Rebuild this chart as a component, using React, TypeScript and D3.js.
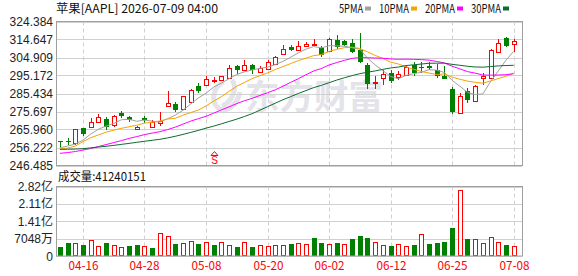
import React, { useEffect } from 'react';
import * as d3 from 'd3';

// trading days shown (MM-DD)
const dates = [
  '04-13', '04-14', '04-15', '04-16', '04-17', '04-20', '04-21', '04-22', '04-23', '04-24',
  '04-27', '04-28', '04-29', '04-30', '05-01', '05-04', '05-05', '05-06', '05-07', '05-08',
  '05-11', '05-12', '05-13', '05-14', '05-15', '05-18', '05-19', '05-20', '05-21', '05-22',
  '05-26', '05-27', '05-28', '05-29', '06-01', '06-02', '06-03', '06-04', '06-05', '06-08',
  '06-09', '06-10', '06-11', '06-12', '06-15', '06-16', '06-17', '06-18', '06-22', '06-23',
  '06-24', '06-25', '06-26', '06-29', '06-30', '07-01', '07-02', '07-06', '07-07', '07-08',
];

const opens = [
  259.69, 259.6, 258.45, 266.54, 267.08, 270.09, 271.55, 268.32, 274.95, 272.47,
  266.0, 271.93, 267.4, 269.23, 278.72, 279.91, 276.94, 280.88, 289.34, 290.15,
  292.58, 292.85, 293.92, 300.39, 298.07, 300.77, 297.16, 298.88, 301.58, 306.86,
  310.64, 309.13, 310.91, 312.0, 310.1, 308.21, 314.14, 313.6, 312.9, 308.75,
  301.04, 291.23, 294.03, 296.51, 294.35, 295.65, 301.04, 300.0, 300.3, 297.97,
  295.0, 287.72, 274.94, 286.65, 281.42, 294.03, 294.03, 307.67, 315.6, 311.98,
];
const highs = [
  259.9, 261.47, 266.43, 266.97, 271.93, 274.25, 272.47, 273.55, 275.86, 273.0,
  267.94, 273.17, 271.01, 275.49, 287.02, 280.88, 284.33, 287.72, 291.04, 294.73,
  294.35, 295.0, 301.04, 301.04, 303.36, 301.2, 300.12, 303.36, 305.78, 311.45,
  311.45, 313.6, 313.06, 314.68, 310.91, 315.6, 317.21, 314.14, 315.06, 317.91,
  301.9, 294.73, 297.97, 297.97, 297.43, 300.66, 302.44, 302.28, 302.55, 301.47,
  300.28, 288.96, 285.94, 288.26, 290.15, 296.73, 309.67, 314.68, 315.76, 315.06,
];
const lows = [
  256.62, 257.54, 257.54, 262.38, 266.97, 269.93, 265.62, 267.08, 272.25, 269.77,
  265.73, 269.23, 266.97, 267.94, 278.29, 275.16, 276.67, 280.45, 285.95, 289.88,
  291.12, 292.58, 293.65, 295.97, 297.97, 295.97, 296.62, 298.78, 301.47, 306.59,
  308.21, 309.02, 310.64, 310.91, 305.24, 307.94, 309.67, 310.91, 307.4, 301.74,
  288.1, 288.1, 289.88, 290.96, 292.58, 295.27, 294.89, 296.35, 297.97, 293.65,
  293.11, 274.08, 274.25, 280.55, 280.98, 289.88, 293.49, 307.4, 310.74, 307.67,
];
const closes = [
  259.15, 259.0, 266.0, 263.3, 269.77, 272.47, 267.4, 273.17, 273.33, 271.01,
  267.08, 270.85, 270.09, 270.63, 280.34, 276.57, 283.95, 287.19, 286.92, 293.49,
  292.95, 294.73, 299.05, 298.34, 300.77, 297.97, 299.05, 302.28, 305.14, 309.67,
  309.02, 310.91, 312.36, 312.2, 306.05, 315.06, 310.37, 311.45, 307.83, 302.44,
  290.8, 291.77, 296.19, 292.04, 296.19, 299.75, 296.72, 299.6, 299.3, 295.0,
  293.38, 275.48, 283.95, 282.17, 289.5, 294.89, 308.75, 312.79, 311.07, 313.6,
];
const volumes = [
  35900000, 52500000, 52500000, 44200000, 65000000, 40100000, 52500000, 44200000, 35900000, 41500000,
  44200000, 40100000, 31800000, 94000000, 81500000, 49800000, 52500000, 60800000, 49800000, 56700000,
  44200000, 55300000, 44200000, 35900000, 56700000, 35900000, 44200000, 41500000, 44200000, 44200000,
  49800000, 52500000, 49800000, 74600000, 53900000, 49800000, 53900000, 49800000, 70500000, 82900000,
  74600000, 56700000, 44200000, 41500000, 48400000, 41500000, 45600000, 89800000, 49800000, 53900000,
  58000000, 111900000, 268100000, 70500000, 70500000, 52500000, 77400000, 58000000, 45600000, 41240151,
];

const ma5Lead = [256.08, 256.99, 258.07, 260.23];
const ma10Lead = [255.4, 255.9, 257.0, 259.4, 261.5, 263.0, 264.5, 265.6, 266.6];
const ma20Lead = [
  253.06, 253.49, 254.03, 254.84, 255.65, 256.72, 257.8, 258.88, 259.96, 261.15,
  262.12, 263.2, 264.01, 264.81, 265.89, 267.24, 268.85, 270.47, 271.82,
];
const ma30Lead = [
  255.22, 255.27, 255.38, 255.59, 256.02, 256.46, 256.89, 257.37, 257.91, 258.45,
  259.04, 259.58, 260.12, 260.66, 261.42, 262.28, 263.3, 264.38, 265.46, 266.7,
  267.78, 269.02, 270.31, 271.55, 273.01, 274.52, 276.4, 278.29, 280.18,
];

const maPeriods = [5, 10, 20, 30];
const maLeads = [ma5Lead, ma10Lead, ma20Lead, ma30Lead];
const maNames = ['5PMA', '10PMA', '20PMA', '30PMA'];
const maColors = ['#a0a0a0', '#f5a300', '#ff00ff', '#0e6b2f'];

const priceTicks = [324.384, 314.647, 304.909, 295.172, 285.434, 275.697, 265.96, 256.222, 246.485];
const volTickValues = [0, 70480000, 140960000, 211440000, 281920000];
const volTickLabels = ['0', '7048万', '1.41亿', '2.11亿', '2.82亿'];
const dateTicks = ['04-16', '04-28', '05-08', '05-20', '06-02', '06-12', '06-25', '07-08'];
const signalDates = ['05-11'];

const title = '苹果[AAPL] 2026-07-09 04:00';
const volTitle = '成交量:41240151';

const RED = '#ff0000';
const GREEN = '#008000';
const GRID = '#d0d0d0';
const FRAME = '#a0a0a0';
const CJK = '"Noto Sans CJK SC", "Liberation Sans", sans-serif';
const SANS = '"Liberation Sans", "Noto Sans CJK SC", sans-serif';

const W = 578;
const H = 276;
const left = 56;
const right = 522;
const priceTop = 21.5;
const priceBottom = 165.5;
const volTop = 186.5;
const volBottom = 256;
const bodyW = 5;

const movingAvg = (period: number, lead: number[]) =>
  closes.map((_, i) =>
    i < lead.length ? lead[i] : (d3.mean(closes.slice(i - period + 1, i + 1)) as number)
  );

const App = () => {
  useEffect(() => {
    document.body.style.margin = '0';
  }, []);

  const x = d3.scalePoint<string>().domain(dates).range([59.9, 513.6]);
  const y = d3.scaleLinear().domain([246.485, 324.384]).range([priceBottom, priceTop]);
  const yv = d3.scaleLinear().domain([0, 281920000]).range([volBottom, volTop]);

  const cx = (d: string) => Math.round(x(d) as number);
  const crisp = (v: number) => Math.round(v) + 0.5;

  const maLines = maPeriods.map((p, k) => {
    const vals = movingAvg(p, maLeads[k]);
    return d3
      .line<number>()
      .x((_, i) => x(dates[i]) as number)
      .y((v) => y(v))(vals) as string;
  });

  // legend layout: SimSun-like 6px per latin character
  let lx = 339;
  const legend = maNames.map((name, k) => {
    const tw = name.length * 6;
    const item = { name, tx: lx, tw, sx: lx + tw + 2, color: maColors[k] };
    lx = lx + tw + 2 + 6 + 8;
    return item;
  });

  return (
    <svg
      width={W}
      height={H}
      style={{ position: 'fixed', left: 0, top: 0, background: '#fff', display: 'block' }}
    >
      <rect x={0} y={0} width={W} height={H} fill="#fff" />

      {/* watermark */}
      <text
        x={245}
        y={109}
        fontFamily={CJK}
        fontWeight="bold"
        fontSize={34}
        fill="#e3e3e9"
        textLength={138}
        lengthAdjust="spacingAndGlyphs"
      >
        东方财富
      </text>
      <path
        d="M224,82 C214,86 210,100 218,108 C226,114 238,104 240,92 M232,80 C238,88 232,102 222,106"
        stroke="#e3e3e9"
        strokeWidth={5}
        fill="none"
      />

      {/* title + legend */}
      <text x={56} y={13} fontFamily={CJK} fontSize={12} fill="#111" textLength={162} lengthAdjust="spacingAndGlyphs">
        {title}
      </text>
      {legend.map((l) => (
        <g key={l.name}>
          <text x={l.tx} y={12.5} fontFamily={CJK} fontSize={12} fill="#111" textLength={l.tw} lengthAdjust="spacingAndGlyphs">
            {l.name}
          </text>
          <rect x={l.sx} y={6.5} width={6} height={4} fill={l.color} />
        </g>
      ))}

      {/* price grid */}
      {priceTicks.map((t) => (
        <g key={t}>
          <line x1={left} x2={right} y1={crisp(y(t))} y2={crisp(y(t))} stroke={GRID} />
          <text x={53} y={y(t) + 4.5} textAnchor="end" fontFamily={SANS} fontSize={12} fill="#222">
            {t.toFixed(3)}
          </text>
        </g>
      ))}
      {/* volume grid */}
      {volTickValues.map((v, i) => (
        <g key={v}>
          <line x1={left} x2={right} y1={crisp(yv(v))} y2={crisp(yv(v))} stroke={GRID} />
          <text x={53} y={yv(v) + 4.5} textAnchor="end" fontFamily={SANS} fontSize={12} fill="#222">
            {volTickLabels[i]}
          </text>
        </g>
      ))}
      {/* vertical dashed lines and date labels */}
      {dateTicks.map((d) => (
        <g key={d}>
          <line x1={cx(d) + 0.5} x2={cx(d) + 0.5} y1={priceTop} y2={priceBottom} stroke={GRID} strokeDasharray="4,3" />
          <line x1={cx(d) + 0.5} x2={cx(d) + 0.5} y1={volTop} y2={volBottom} stroke={GRID} strokeDasharray="4,3" />
          <text
            x={cx(d) + 0.5}
            y={270}
            textAnchor="middle"
            fontFamily={CJK}
            fontSize={12}
            fill={RED}
            textLength={30}
            lengthAdjust="spacingAndGlyphs"
          >
            {d}
          </text>
        </g>
      ))}

      {/* candles */}
      {dates.map((d, i) => {
        const o = opens[i];
        const c = closes[i];
        const up = c >= o;
        const x0 = cx(d) - 2;
        const mid = x0 + 2.5;
        const top = Math.round(y(Math.max(o, c)));
        const bot = Math.round(y(Math.min(o, c)));
        const hi = Math.round(y(highs[i]));
        const lo = Math.round(y(lows[i]));
        if (up) {
          const h = Math.max(bot - top, 1);
          return (
            <g key={d}>
              <line x1={mid} x2={mid} y1={hi} y2={top} stroke={RED} />
              <line x1={mid} x2={mid} y1={top + h} y2={Math.max(lo, top + h)} stroke={RED} />
              <rect x={x0 + 0.5} y={top + 0.5} width={bodyW - 1} height={h} fill="#fff" stroke={RED} />
            </g>
          );
        }
        return (
          <g key={d}>
            <line x1={mid} x2={mid} y1={hi} y2={lo} stroke={GREEN} />
            <rect x={x0} y={top} width={bodyW} height={Math.max(bot - top, 1)} fill={GREEN} />
          </g>
        );
      })}

      {/* moving averages */}
      {maLines.map((p, k) => (
        <path key={maNames[k]} d={p} fill="none" stroke={maColors[k]} strokeWidth={1} />
      ))}

      {/* signal markers */}
      {signalDates.map((d) => (
        <g key={d} fill={RED}>
          <path d={`M${cx(d) - 3},155.5 L${cx(d) + 0.5},151.5 L${cx(d) + 4},155.5 Z`} fill="none" stroke={RED} />
          <text x={cx(d) + 0.5} y={164} textAnchor="middle" fontFamily={SANS} fontSize={10}>
            S
          </text>
        </g>
      ))}

      {/* volume bars */}
      <text x={58} y={181} fontFamily={CJK} fontSize={12} fill="#111" textLength={88} lengthAdjust="spacingAndGlyphs">
        {volTitle}
      </text>
      {dates.map((d, i) => {
        const prev = i === 0 ? opens[0] : closes[i - 1];
        const up = closes[i] >= prev;
        const x0 = cx(d) - 2;
        const top = Math.round(yv(volumes[i]));
        const h = volBottom - top;
        return up ? (
          <rect key={d} x={x0 + 0.5} y={top + 0.5} width={bodyW - 1} height={h - 1} fill="#fff" stroke={RED} />
        ) : (
          <rect key={d} x={x0} y={top} width={bodyW} height={h} fill={GREEN} />
        );
      })}

      {/* frames */}
      <rect x={left + 0.5} y={priceTop} width={right - left} height={priceBottom - priceTop} fill="none" stroke={FRAME} />
      <rect x={left + 0.5} y={volTop} width={right - left} height={volBottom - volTop} fill="none" stroke={FRAME} />
    </svg>
  );
};

export default App;
